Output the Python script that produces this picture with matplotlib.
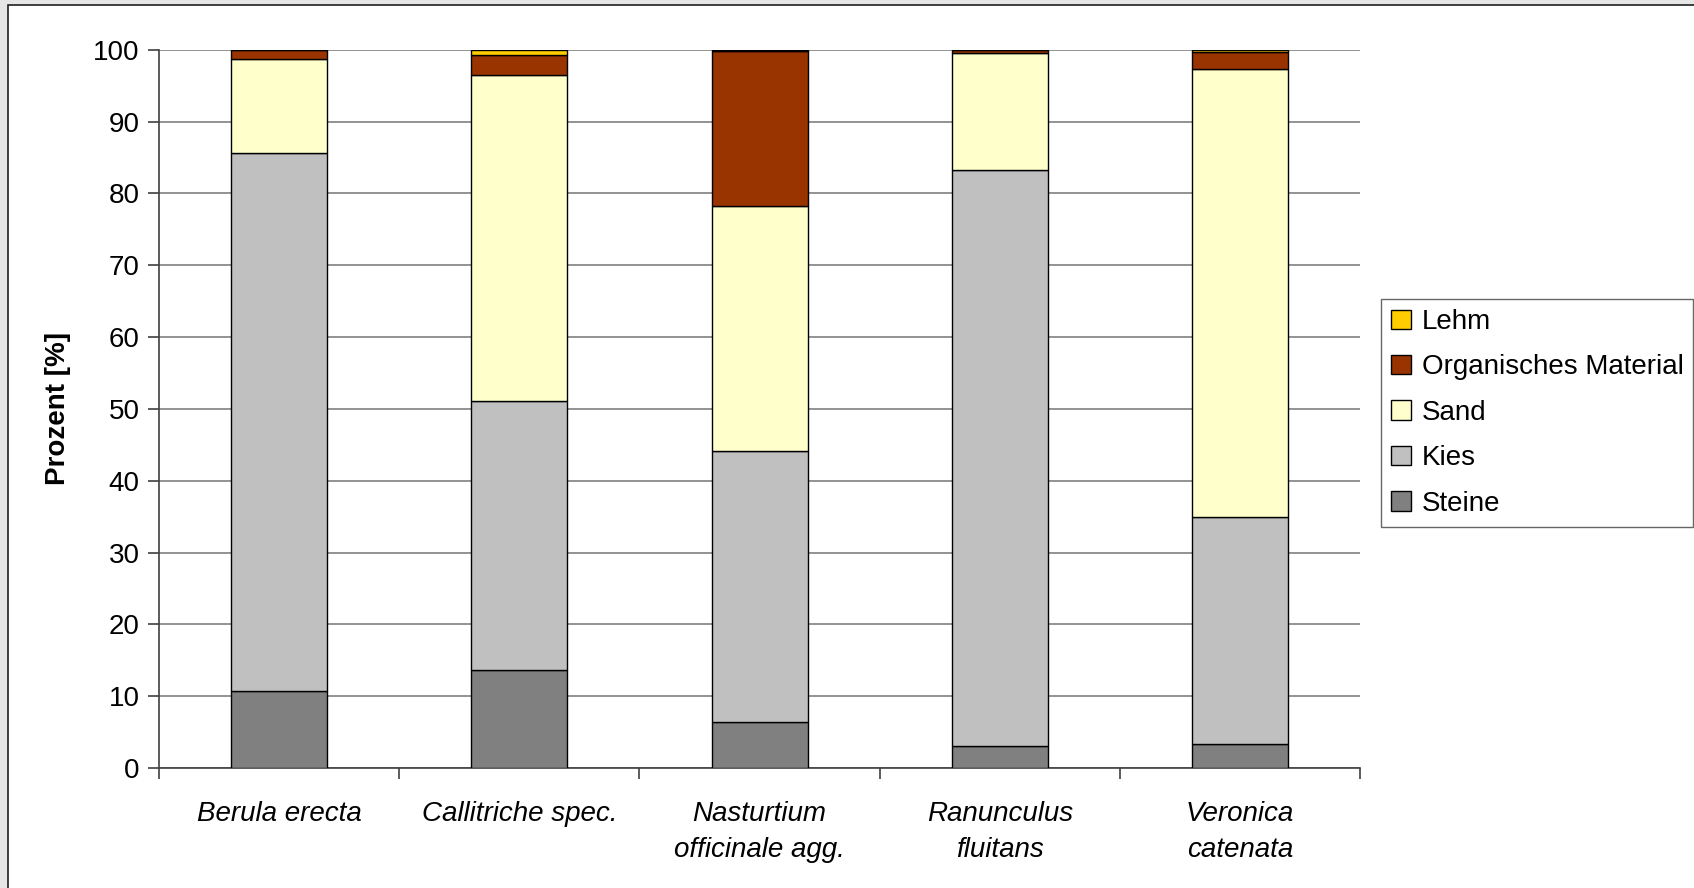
import matplotlib.pyplot as plt
from matplotlib.patches import Rectangle
import numpy as np

plt.rcParams['font.family'] = ['Liberation Sans', 'DejaVu Sans']

categories = ["Berula erecta", "Callitriche spec.", "Nasturtium\nofficinale agg.",
              "Ranunculus\nfluitans", "Veronica\ncatenata"]
steine = [10.7, 13.7, 6.4, 3.1, 3.4]
kies = [74.9, 37.4, 37.8, 80.2, 31.5]
sand = [13.1, 45.4, 34.1, 16.2, 62.4]
organisch = [1.3, 2.8, 21.5, 0.4, 2.4]
lehm = [0.0, 0.7, 0.2, 0.1, 0.3]

series = [("Steine", steine, "#808080"),
          ("Kies", kies, "#c0c0c0"),
          ("Sand", sand, "#ffffcc"),
          ("Organisches Material", organisch, "#993300"),
          ("Lehm", lehm, "#ffcc00")]

fs = 20

fig = plt.figure(figsize=(16.94, 8.88), dpi=100)
fig.patch.set_facecolor("#e6e6e6")
# white chart area with dark frame
fig.add_artist(Rectangle((0.0045, -0.01), 1.0, 1.004, transform=fig.transFigure,
                         facecolor="white", edgecolor="#202020", linewidth=1.2,
                         zorder=-10))

ax = fig.add_axes([0.0938, 0.135, 0.7092, 0.809])
ax.set_facecolor("white")
x = np.arange(len(categories))
bottom = np.zeros(len(categories))
handles = []
for name, vals, col in series:
    b = ax.bar(x, vals, width=0.4, bottom=bottom, color=col, edgecolor="black",
               linewidth=1.0, label=name, zorder=3)
    handles.append(b)
    bottom += np.array(vals)

ax.set_xlim(-0.5, len(categories) - 0.5)
ax.set_ylim(0, 100)
ax.set_yticks(range(0, 101, 10))
ax.yaxis.grid(True, color="#808080", linewidth=1.2, zorder=0)
ax.set_axisbelow(True)
ax.set_xticks(x)
ax.set_xticklabels(categories, fontsize=fs, style="italic", linespacing=1.5)
ax.tick_params(axis="x", length=0, pad=24)
ax.set_xticks(np.arange(-0.5, len(categories), 1), minor=True)
ax.tick_params(axis="x", which="minor", length=8, color="#404040", width=1.2)
ax.tick_params(axis="y", labelsize=fs, length=8, color="#404040", width=1.2, pad=6)
ax.set_ylabel("Prozent [%]", fontsize=fs, fontweight="bold", labelpad=16)

for s in ["top", "right"]:
    ax.spines[s].set_visible(False)
ax.spines["left"].set_color("#404040")
ax.spines["bottom"].set_color("#404040")
ax.spines["left"].set_linewidth(1.2)
ax.spines["bottom"].set_linewidth(1.2)

leg = fig.legend(handles[::-1], [s[0] for s in series][::-1],
                 loc="center left", bbox_to_anchor=(0.8155, 0.535),
                 fontsize=fs, frameon=True, fancybox=False, edgecolor="#404040",
                 handlelength=0.7, handleheight=0.7, handletextpad=0.4,
                 labelspacing=0.7, borderpad=0.35, borderaxespad=0)
leg.get_frame().set_linewidth(1.0)

fig.savefig("out.png", dpi=100, facecolor=fig.get_facecolor())
